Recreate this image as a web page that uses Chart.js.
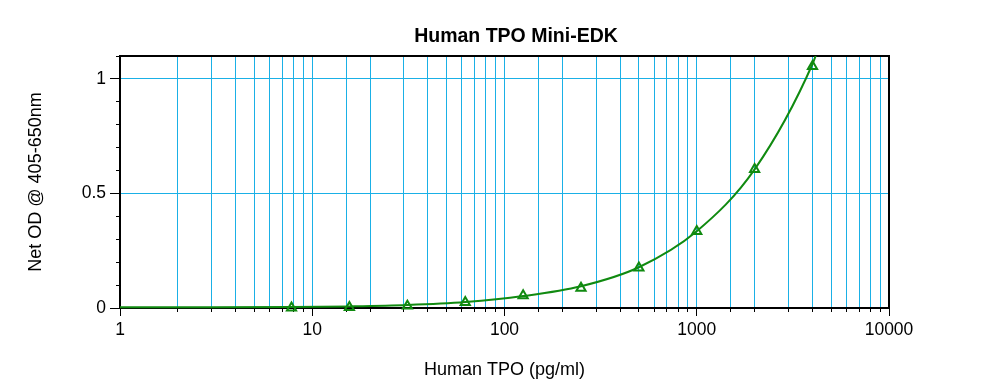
<!DOCTYPE html>
<html>
<head>
<meta charset="utf-8">
<script src="https://cdn.jsdelivr.net/npm/chart.js@4/dist/chart.umd.min.js"></script>
<style>
  html, body { margin: 0; padding: 0; background: #ffffff; overflow: hidden; }
  #wrap { width: 1000px; height: 390px; position: relative; }
</style>
</head>
<body>
<div id="wrap"><canvas id="c" width="1000" height="390"></canvas></div>
<script>
// ---- data ----
const chartTitle = 'Human TPO Mini-EDK';
const xAxisTitle = 'Human TPO (pg/ml)';
const yAxisTitle = 'Net OD @ 405-650nm';

// standards (pg/ml) and measured net OD
const concentrations = [7.8, 15.6, 31.25, 62.5, 125, 250, 500, 1000, 2000, 4000];
const netOD          = [0.001, 0.003, 0.009, 0.025, 0.054, 0.087, 0.175, 0.335, 0.605, 1.055];

// fitted curve
const curveX = [1, 3, 7.8, 15.6, 31.25, 62.5, 125, 250, 500, 1000, 2000, 4000, 4400];
const curveY = [0.003, 0.003, 0.004, 0.007, 0.013, 0.026, 0.052, 0.095, 0.178, 0.335, 0.605, 1.065, 1.16];

// tick labels
const xTickLabels = [1, 10, 100, 1000, 10000];
const yTickLabels = [0, 0.5, 1];

const gridBlue = '#1ab0e6';
const green = '#108a10';
const fontFamily = "'Liberation Sans', Arial, Helvetica, sans-serif";
const clear = 'rgba(0,0,0,0)';

const isXLabel = v => xTickLabels.some(t => Math.abs(t - v) < 1e-9);
const yLabelOf = v => yTickLabels.find(t => Math.abs(t - v) < 1e-6);

const framePlugin = {
  id: 'frame',
  beforeDatasetsDraw(chart) {
    const { ctx, chartArea: a } = chart;
    ctx.save();
    ctx.strokeStyle = '#000';
    ctx.lineWidth = 2;
    ctx.strokeRect(a.left, a.top, a.right - a.left, a.bottom - a.top);
    ctx.restore();
  }
};

new Chart(document.getElementById('c'), {
  type: 'scatter',
  data: {
    datasets: [
      {
        label: 'fit',
        data: curveX.map((x, i) => ({ x, y: curveY[i] })),
        showLine: true,
        borderColor: green,
        borderWidth: 2,
        pointRadius: 0,
        fill: false,
        cubicInterpolationMode: 'monotone',
        clip: { left: 0, right: 0, top: 0, bottom: 4 }
      },
      {
        label: 'standards',
        data: concentrations.map((x, i) => ({ x, y: netOD[i] })),
        showLine: false,
        pointStyle: 'triangle',
        pointRadius: 5.3,
        borderColor: green,
        backgroundColor: clear,
        borderWidth: 2,
        clip: false
      }
    ]
  },
  options: {
    responsive: false,
    animation: false,
    layout: { padding: { left: 0, right: -32, top: 0, bottom: 0 } },
    plugins: {
      legend: { display: false },
      tooltip: { enabled: false },
      title: {
        display: true,
        text: chartTitle,
        color: '#000',
        font: { family: fontFamily, size: 19.5, weight: 'bold' },
        padding: { top: 24.8, bottom: 7.8 }
      }
    },
    scales: {
      x: {
        type: 'logarithmic',
        position: 'bottom',
        weight: 1,
        min: 1,
        max: 10000,
        afterFit(s) { s.height = 82; },
        title: {
          display: true,
          text: xAxisTitle,
          color: '#000',
          font: { family: fontFamily, size: 18 },
          padding: { top: 0, bottom: 9 }
        },
        border: { display: true, color: '#000', width: 2 },
        grid: {
          color: gridBlue,
          lineWidth: 1,
          drawTicks: true,
          tickLength: 8,
          tickColor(ctx) { return ctx.tick && isXLabel(ctx.tick.value) ? '#000' : clear; },
          tickWidth: 1
        },
        ticks: {
          autoSkip: false,
          maxRotation: 0,
          color: '#000',
          padding: 4,
          font: { family: fontFamily, size: 17.5 },
          callback(v) { return isXLabel(v) ? String(v) : ''; }
        }
      },
      xMinor: {
        type: 'logarithmic',
        position: 'bottom',
        weight: 0,
        min: 1,
        max: 10000,
        afterFit(s) { s.height = 0; },
        border: { display: false },
        grid: {
          drawOnChartArea: false,
          drawTicks: true,
          tickLength: 4,
          tickColor: '#000',
          tickWidth: 1
        },
        ticks: { display: false, autoSkip: false }
      },
      y: {
        position: 'left',
        weight: 1,
        min: 0,
        max: 1.1,
        afterFit(s) { s.width = 120; },
        title: {
          display: true,
          text: yAxisTitle,
          color: '#000',
          font: { family: fontFamily, size: 18 },
          padding: { top: 25, bottom: 0 }
        },
        border: { display: true, color: '#000', width: 2 },
        grid: {
          color(ctx) {
            const v = ctx.tick ? ctx.tick.value : 0;
            const l = yLabelOf(v);
            return (l !== undefined && l > 0) ? gridBlue : clear;
          },
          lineWidth: 1,
          drawTicks: true,
          tickLength: 10,
          tickColor(ctx) { return ctx.tick && yLabelOf(ctx.tick.value) !== undefined ? '#000' : clear; },
          tickWidth: 1
        },
        ticks: {
          stepSize: 0.1,
          autoSkip: false,
          color: '#000',
          padding: 4,
          font: { family: fontFamily, size: 17.5 },
          callback(v) {
            const hit = yLabelOf(v);
            return hit !== undefined ? String(hit) : '';
          }
        }
      },
      yMinor: {
        position: 'left',
        weight: 0,
        min: 0,
        max: 1.1,
        afterFit(s) { s.width = 0; },
        border: { display: false },
        grid: {
          drawOnChartArea: false,
          drawTicks: true,
          tickLength: 4,
          tickColor: '#000',
          tickWidth: 1
        },
        ticks: { display: false, stepSize: 0.1, autoSkip: false }
      },
      rightSpace: {
        position: 'right',
        min: 0,
        max: 1,
        afterFit(s) { s.width = 143; },
        border: { display: false },
        grid: { display: false },
        ticks: { display: false }
      }
    }
  },
  plugins: [framePlugin]
});
</script>
</body>
</html>
